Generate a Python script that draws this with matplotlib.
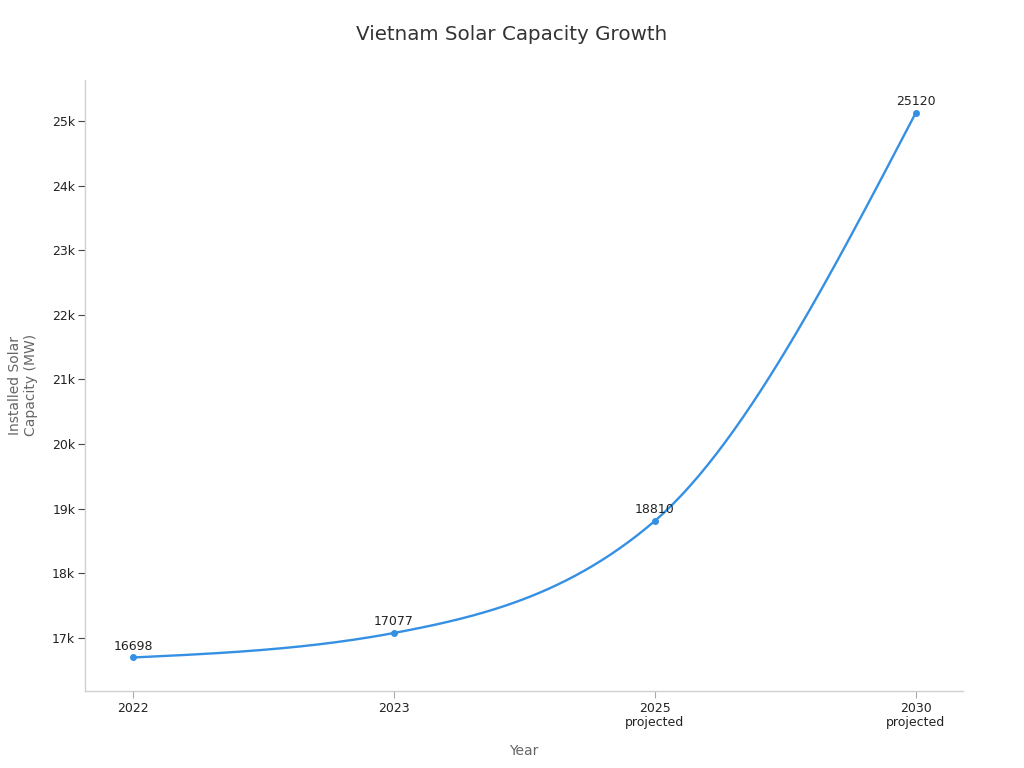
import numpy as np
import matplotlib
matplotlib.use("Agg")
import matplotlib.pyplot as plt

years = ["2022", "2023", "2025\nprojected", "2030\nprojected"]
capacity = [16698, 17077, 18810, 25120]

line_color = "#3590e3"


def monotone_slopes(x, y):
    # same rule as d3.curveMonotoneX
    x = np.asarray(x, float)
    y = np.asarray(y, float)
    n = len(x)
    h = np.diff(x)
    s = np.diff(y) / h
    t = np.zeros(n)
    for i in range(1, n - 1):
        h0, h1 = h[i - 1], h[i]
        s0, s1 = s[i - 1], s[i]
        p = (s0 * h1 + s1 * h0) / (h0 + h1)
        t[i] = (np.sign(s0) + np.sign(s1)) * min(abs(s0), abs(s1), 0.5 * abs(p))
    t[0] = (3 * s[0] - t[1]) / 2
    t[-1] = (3 * s[-1] - t[-2]) / 2
    return t


def monotone_curve(x, y, steps=60):
    x = np.asarray(x, float)
    y = np.asarray(y, float)
    t = monotone_slopes(x, y)
    xs, ys = [], []
    for i in range(len(x) - 1):
        h = x[i + 1] - x[i]
        u = np.linspace(0, 1, steps)
        h00 = 2 * u**3 - 3 * u**2 + 1
        h10 = u**3 - 2 * u**2 + u
        h01 = -2 * u**3 + 3 * u**2
        h11 = u**3 - u**2
        xs.append(x[i] + u * h)
        ys.append(h00 * y[i] + h10 * h * t[i] + h01 * y[i + 1] + h11 * h * t[i + 1])
    return np.concatenate(xs), np.concatenate(ys)


fig = plt.figure(figsize=(10.24, 7.68), dpi=100)
ax = fig.add_axes([0.083, 0.1003, 0.857, 0.7957])

xpos = np.arange(len(years))
cx, cy = monotone_curve(xpos, capacity)
ax.plot(cx, cy, color=line_color, lw=1.7, solid_capstyle="round")
ax.plot(xpos, capacity, "o", color=line_color, ms=4)

for xi, v in zip(xpos, capacity):
    ax.annotate(str(v), (xi, v), xytext=(0, 3.5), textcoords="offset points",
                ha="center", va="bottom", fontsize=9, color="#222222")

ax.set_xlim(-0.184, 3.18)
ax.set_ylim(16180, 25635)
ax.set_xticks(xpos)
ax.set_xticklabels(years)
for lbl in ax.get_xticklabels():
    lbl.set_linespacing(1.05)
yt = np.arange(17000, 25001, 1000)
ax.set_yticks(yt)
ax.set_yticklabels([f"{int(v/1000)}k" for v in yt])

for side in ["top", "right"]:
    ax.spines[side].set_visible(False)
for side in ["left", "bottom"]:
    ax.spines[side].set_color("#d0d0d0")
    ax.spines[side].set_linewidth(1)

ax.tick_params(axis="x", length=5, color="#aaaaaa", labelsize=9, labelcolor="#222222", pad=3)
ax.tick_params(axis="y", length=5, color="#444444", labelsize=9, labelcolor="#222222", pad=2)

ax.set_xlabel("Year", fontsize=10, color="#666666", labelpad=11)
ax.set_ylabel("Installed Solar\nCapacity (MW)", fontsize=10, color="#666666", labelpad=10)

fig.suptitle("Vietnam Solar Capacity Growth", x=0.5, y=0.968, fontsize=14.3, color="#333333")

fig.savefig("out.png", dpi=100, facecolor="white")
